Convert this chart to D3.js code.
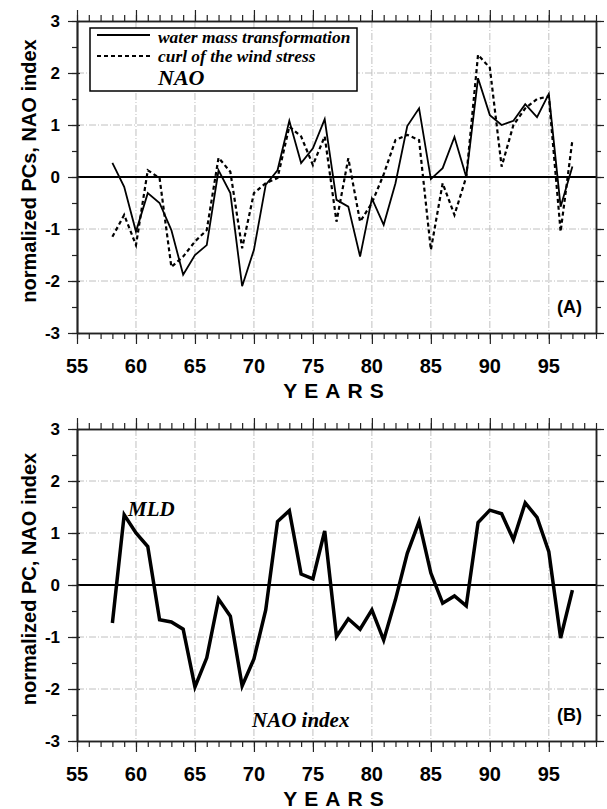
<!DOCTYPE html>
<html><head><meta charset="utf-8">
<script src="https://cdn.jsdelivr.net/npm/d3@7"></script>
<style>body{margin:0;background:#fff}</style>
</head><body>
<svg id="c" width="607" height="809"></svg>
<script>
const years = d3.range(1958, 1998).map(y => y - 1900);
const waterMass = [0.27,-0.19,-1.05,-0.31,-0.5,-1.02,-1.88,-1.5,-1.31,0.13,-0.31,-2.1,-1.4,-0.15,0.13,1.08,0.27,0.55,1.11,-0.44,-0.57,-1.53,-0.41,-0.92,-0.12,0.98,1.32,-0.04,0.17,0.77,0.0,1.9,1.19,1.0,1.08,1.4,1.15,1.6,-0.57,0.2];
const windCurl = [-1.15,-0.73,-1.31,0.13,-0.02,-1.73,-1.53,-1.24,-1.02,0.37,0.1,-1.37,-0.31,-0.12,-0.02,0.97,0.78,0.23,0.78,-0.86,0.36,-0.86,-0.5,0.05,0.71,0.81,0.71,-1.4,-0.12,-0.73,0.0,2.35,2.1,0.2,1.0,1.32,1.5,1.55,-1.05,0.71];
const mld = [-0.73,1.35,1.0,0.74,-0.67,-0.71,-0.85,-1.96,-1.4,-0.27,-0.6,-1.94,-1.42,-0.48,1.22,1.43,0.21,0.12,1.04,-0.99,-0.65,-0.85,-0.48,-1.06,-0.28,0.61,1.22,0.23,-0.35,-0.21,-0.4,1.2,1.44,1.37,0.87,1.58,1.3,0.64,-1.02,-0.1];
const xTickLabels = [55,60,65,70,75,80,85,90,95];
const yTickLabels = [-3,-2,-1,0,1,2,3];
const legendLabels = ["water mass transformation","curl of the wind stress","NAO"];

const svg = d3.select("#c");
const left = 77, right = 596;
const x = d3.scaleLinear().domain([55, 99]).range([left, right]);

function panel(top, yTitle, tag) {
  const bottom = top + 312;
  const y = d3.scaleLinear().domain([-3, 3]).range([bottom, top]);
  const g = svg.append("g");
  const gridStyle = s => s.attr("stroke", "#c0c0c0").attr("stroke-width", 1).attr("stroke-dasharray", "7,2,1,2");
  g.selectAll(".vg").data([60,65,70,75,80,85,90,95]).join("line")
    .attr("x1", d => x(d)).attr("x2", d => x(d)).attr("y1", top).attr("y2", bottom).call(gridStyle);
  g.selectAll(".hg").data([-2,-1,1,2]).join("line")
    .attr("x1", left).attr("x2", right).attr("y1", d => y(d)).attr("y2", d => y(d)).call(gridStyle);
  g.append("line").attr("x1", left).attr("x2", right).attr("y1", y(0)).attr("y2", y(0))
    .attr("stroke", "#000").attr("stroke-width", 2);
  const axStyle = s => s.call(a => a.select(".domain").attr("stroke", "#222").attr("stroke-width", 1.5))
    .call(a => a.selectAll(".tick line").attr("stroke", "#222").attr("stroke-width", 1.2))
    .call(a => a.selectAll("text").remove());
  const yearsAll = d3.range(55, 100);
  g.append("g").attr("transform", `translate(0,${top})`)
    .call(d3.axisTop(x).tickValues(yearsAll).tickSize(6).tickSizeOuter(0)).call(axStyle);
  g.append("g").attr("transform", `translate(0,${top})`)
    .call(d3.axisTop(x).tickValues(xTickLabels).tickSize(11).tickSizeOuter(0)).call(axStyle);
  g.append("g").attr("transform", `translate(0,${bottom})`)
    .call(d3.axisBottom(x).tickValues(yearsAll).tickSize(6).tickSizeOuter(0)).call(axStyle);
  g.append("g").attr("transform", `translate(0,${bottom})`)
    .call(d3.axisBottom(x).tickValues(xTickLabels).tickSize(11).tickSizeOuter(0)).call(axStyle);
  const halves = d3.range(-3, 3.01, 0.5);
  g.append("g").attr("transform", `translate(${left},0)`)
    .call(d3.axisLeft(y).tickValues(halves).tickSize(5).tickSizeOuter(0)).call(axStyle);
  g.append("g").attr("transform", `translate(${left},0)`)
    .call(d3.axisLeft(y).tickValues(yTickLabels).tickSize(9).tickSizeOuter(0)).call(axStyle);
  g.append("g").attr("transform", `translate(${left},0)`)
    .call(d3.axisRight(y).tickValues(yTickLabels).tickSize(3).tickSizeOuter(0)).call(axStyle);
  g.append("g").attr("transform", `translate(${right},0)`)
    .call(d3.axisRight(y).tickValues(halves).tickSize(5).tickSizeOuter(0)).call(axStyle);
  g.append("g").attr("transform", `translate(${right},0)`)
    .call(d3.axisRight(y).tickValues(yTickLabels).tickSize(8).tickSizeOuter(0)).call(axStyle);
  const sans = "'Liberation Sans', Arial, sans-serif";
  g.selectAll(".yl").data(yTickLabels).join("text")
    .attr("x", 60).attr("y", d => y(d) + 6).attr("text-anchor", "end")
    .attr("font-family", sans).attr("font-weight", "bold").attr("font-size", 17).text(d => d);
  g.selectAll(".xl").data(xTickLabels).join("text")
    .attr("x", d => x(d)).attr("y", bottom + 40).attr("text-anchor", "middle")
    .attr("font-family", sans).attr("font-weight", "bold").attr("font-size", 20).text(d => d);
  g.append("text").attr("x", 337).attr("y", bottom + 65).attr("text-anchor", "middle")
    .attr("font-family", sans).attr("font-weight", "bold").attr("font-size", 21)
    .attr("letter-spacing", 7).text("YEARS");
  g.append("text").attr("transform", `translate(36,${top + 150}) rotate(-90)`).attr("text-anchor", "middle")
    .attr("font-family", sans).attr("font-weight", "bold").attr("font-size", 20).text(yTitle);
  g.append("text").attr("x", 557).attr("y", bottom - 20)
    .attr("font-family", sans).attr("font-weight", "bold").attr("font-size", 18).text(tag);
  return {g, y, top, bottom};
}

const serif = "'Liberation Serif', 'Times New Roman', serif";
const A = panel(21, "normalized PCs, NAO index", "(A)");
const line = yS => d3.line().x((d, i) => x(years[i])).y(d => yS(d));
A.g.append("path").datum(windCurl).attr("d", line(A.y)).attr("fill", "none")
  .attr("stroke", "#000").attr("stroke-width", 2.2).attr("stroke-dasharray", "4,3");
A.g.append("path").datum(waterMass).attr("d", line(A.y)).attr("fill", "none")
  .attr("stroke", "#000").attr("stroke-width", 1.8).attr("stroke-linejoin", "miter");
const lg = A.g.append("g");
lg.append("rect").attr("x", 90).attr("y", 28).attr("width", 267).attr("height", 63)
  .attr("fill", "#fff").attr("stroke", "#000").attr("stroke-width", 1.5);
lg.append("line").attr("x1", 97).attr("x2", 150).attr("y1", 35).attr("y2", 35).attr("stroke", "#000").attr("stroke-width", 1.8);
lg.append("line").attr("x1", 97).attr("x2", 150).attr("y1", 56).attr("y2", 56).attr("stroke", "#000").attr("stroke-width", 2.2).attr("stroke-dasharray", "4,3");
lg.selectAll("text").data(legendLabels).join("text")
  .attr("x", 158).attr("y", (d, i) => [43, 62, 85][i])
  .attr("font-family", serif).attr("font-weight", "bold").attr("font-style", "italic")
  .attr("font-size", (d, i) => i === 2 ? 22 : 17.4).text(d => d);

const B = panel(429, "normalized PC, NAO index", "(B)");
B.g.append("path").datum(mld).attr("d", line(B.y)).attr("fill", "none")
  .attr("stroke", "#000").attr("stroke-width", 3.5).attr("stroke-linejoin", "miter");
B.g.append("text").attr("x", 128).attr("y", 516).attr("font-family", serif).attr("font-weight", "bold")
  .attr("font-style", "italic").attr("font-size", 21).text("MLD");
B.g.append("text").attr("x", 252).attr("y", 727).attr("font-family", serif).attr("font-weight", "bold")
  .attr("font-style", "italic").attr("font-size", 21).text("NAO index");
</script>
</body></html>
